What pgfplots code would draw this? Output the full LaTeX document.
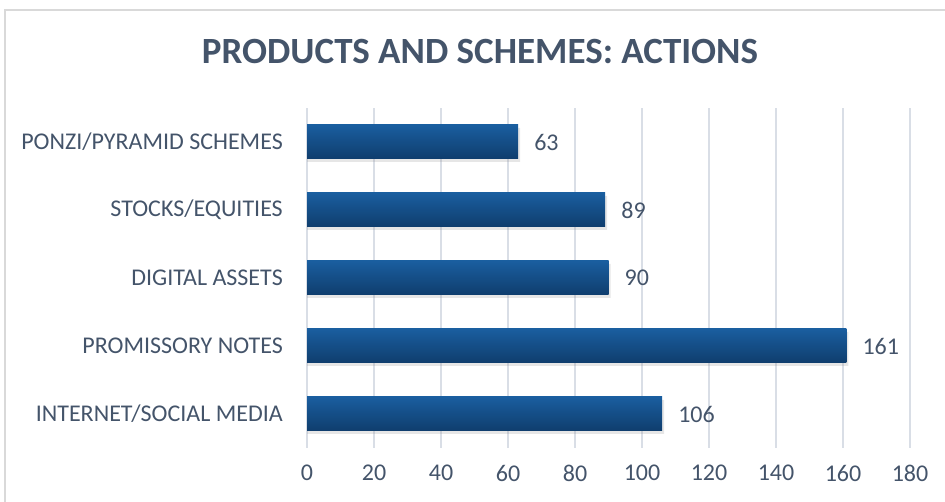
\documentclass[border=0pt]{standalone}
\usepackage{pgfplots}
\pgfplotsset{compat=1.18}
\usepackage{fontspec}
\setmainfont{Carlito}
\definecolor{txt}{HTML}{44546A}
\definecolor{gridc}{HTML}{D9DEE6}
\definecolor{bartop}{HTML}{1A5E9F}
\definecolor{barbot}{HTML}{0F3D6D}
\definecolor{framec}{HTML}{D9D9D9}
\begin{document}
\begin{tikzpicture}
\useasboundingbox (0pt,0pt) rectangle (945pt,502pt);
\draw[framec, line width=1.2pt] (5pt,-10pt) -- (5pt,492pt) -- (960pt,492pt);
\node[font=\fontsize{37}{40}\selectfont\bfseries, text=txt, inner sep=0pt] at (480pt,450pt) {PRODUCTS AND SCHEMES: ACTIONS};
\begin{axis}[
  at={(307pt,54pt)}, anchor=south west,
  scale only axis, width=603pt, height=340pt,
  xmin=0, xmax=180, ymin=-0.5, ymax=4.5,
  xtick={0,20,...,180}, ytick={0,1,2,3,4},
  yticklabels={INTERNET/SOCIAL MEDIA, PROMISSORY NOTES, DIGITAL ASSETS, STOCKS/EQUITIES, PONZI/PYRAMID SCHEMES},
  xmajorgrids, grid style={gridc, line width=1.2pt},
  axis line style={draw=none},
  major tick length=0pt,
  tick style={draw=none},
  ticklabel style={font=\fontsize{24}{28}\selectfont, text=txt, inner sep=0pt},
  /pgf/number format/assume math mode=true,
  yticklabel style={xshift=-24pt},
  xticklabel style={yshift=-17pt},
  xbar, bar width=34pt, bar shift=0pt,
  nodes near coords style={font=\fontsize{24}{28}\selectfont, text=txt, inner sep=0pt, anchor=west, xshift=16pt},
  shadowbar/.style={draw=none, fill=black!45, opacity=0.22, bar shift=-3pt, forget plot},
  mainbar/.style={draw=none, top color=bartop, bottom color=barbot, nodes near coords},
]
\addplot[shadowbar] coordinates {(106.6,0) (161.6,1) (90.6,2) (89.6,3) (63.6,4)};
\addplot[mainbar] coordinates {(106,0)};
\addplot[mainbar] coordinates {(161,1)};
\addplot[mainbar] coordinates {(90,2)};
\addplot[mainbar] coordinates {(89,3)};
\addplot[mainbar] coordinates {(63,4)};
\end{axis}
\end{tikzpicture}
\end{document}
